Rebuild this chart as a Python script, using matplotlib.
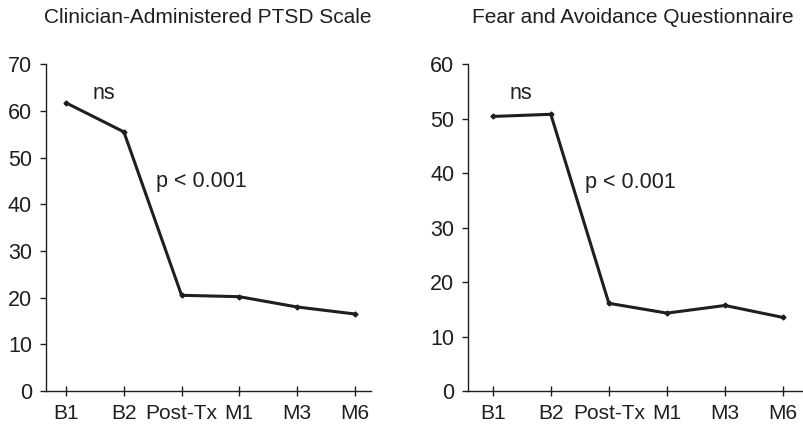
import matplotlib.pyplot as plt

plt.rcParams['font.family'] = ['Liberation Sans', 'DejaVu Sans']

timepoints = ['B1', 'B2', 'Post-Tx', 'M1', 'M3', 'M6']
caps_scores = [61.7, 55.5, 20.5, 20.2, 18.0, 16.5]
faq_scores = [50.4, 50.8, 16.1, 14.3, 15.7, 13.5]

titles = ['Clinician-Administered PTSD Scale', 'Fear and Avoidance Questionnaire']
ylims = [70, 60]

fig = plt.figure(figsize=(8.04, 4.25), dpi=100)
ax1 = fig.add_axes([0.0572, 0.08, 0.404, 0.769])
ax2 = fig.add_axes([0.5825, 0.08, 0.4175, 0.769])

ink = '#1f1f1f'
panels = [(ax1, caps_scores, (-0.35, 5.28)), (ax2, faq_scores, (-0.42, 5.36))]
for i, (ax, scores, xl) in enumerate(panels):
    x = range(len(timepoints))
    ax.plot(x, scores, color=ink, lw=2.2, marker='D', ms=2.5)
    ax.set_xlim(*xl)
    ax.set_ylim(0, ylims[i])
    ax.set_yticks(range(0, ylims[i] + 1, 10))
    ax.set_xticks(list(x))
    ax.set_xticklabels(timepoints)
    for side in ['top', 'right']:
        ax.spines[side].set_visible(False)
    for side in ['left', 'bottom']:
        ax.spines[side].set_linewidth(1.0)
        ax.spines[side].set_color(ink)
    ax.tick_params(axis='y', direction='out', length=4, width=1, labelsize=15.5,
                   colors=ink, pad=6)
    ax.tick_params(axis='x', direction='inout', length=7, width=1, labelsize=15,
                   colors=ink, pad=6)

fig.text(0.258, 0.958, titles[0], fontsize=15, color=ink, ha='center', va='center')
fig.text(0.787, 0.958, titles[1], fontsize=15, color=ink, ha='center', va='center')

# significance labels
ax1.text(0.66, 63.7, 'ns', fontsize=15.5, color=ink, ha='center', va='center')
ax1.text(1.55, 44.8, 'p < 0.001', fontsize=15.5, color=ink, ha='left', va='center')
ax2.text(0.49, 54.6, 'ns', fontsize=15.5, color=ink, ha='center', va='center')
ax2.text(1.59, 38.3, 'p < 0.001', fontsize=15.5, color=ink, ha='left', va='center')

fig.savefig('out.png', dpi=100)
